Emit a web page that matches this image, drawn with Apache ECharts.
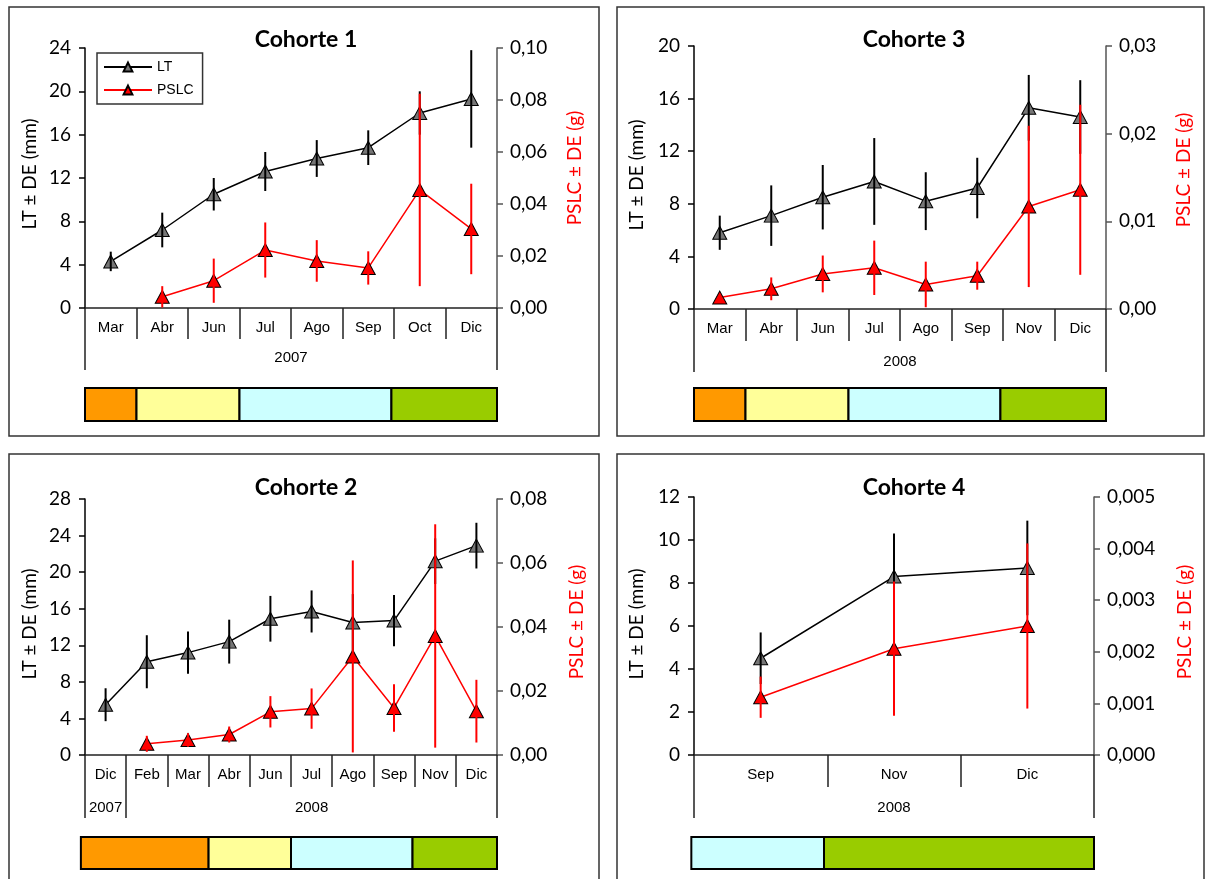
<!DOCTYPE html>
<html>
<head>
<meta charset="utf-8">
<script src="https://cdn.jsdelivr.net/npm/echarts@6/dist/echarts.min.js"></script>
<style>
  html, body { margin: 0; padding: 0; background: #fff; }
  #chart { width: 1205px; height: 879px; }
</style>
</head>
<body>
<div id="chart"></div>
<script>
// ---- Cohorte 1 (2007) ----
const c1Months = ['Mar', 'Abr', 'Jun', 'Jul', 'Ago', 'Sep', 'Oct', 'Dic'];
const c1LT = [4.3, 7.2, 10.5, 12.6, 13.8, 14.8, 18.0, 19.3];
const c1LTsd = [0.9, 1.6, 1.5, 1.8, 1.7, 1.6, 2.0, 4.5];
const c1PSLC = [null, 0.0043, 0.0105, 0.0223, 0.0181, 0.0154, 0.0454, 0.0304];
const c1PSLCsd = [null, 0.0041, 0.0085, 0.0106, 0.0080, 0.0064, 0.0370, 0.0174];
const c1Years = ['2007'];
const c1YearSpans = [8];
const c1SeasonEdges = [0, 1, 3, 5.95, 8];
const c1Seasons = [0, 1, 2, 3];
const c1LTTicks = [0, 24, 4];
const c1PSLCTicks = [0, 0.10, 0.02];

// ---- Cohorte 3 (2008) ----
const c3Months = ['Mar', 'Abr', 'Jun', 'Jul', 'Ago', 'Sep', 'Nov', 'Dic'];
const c3LT = [5.8, 7.1, 8.5, 9.7, 8.2, 9.2, 15.3, 14.6];
const c3LTsd = [1.3, 2.3, 2.45, 3.3, 2.2, 2.3, 2.5, 2.8];
const c3PSLC = [0.0013, 0.0023, 0.0040, 0.0047, 0.0028, 0.0038, 0.0117, 0.0136];
const c3PSLCsd = [0.0002, 0.0013, 0.0021, 0.0031, 0.0026, 0.0016, 0.0092, 0.0097];
const c3Years = ['2008'];
const c3YearSpans = [8];
const c3SeasonEdges = [0, 1, 3, 5.95, 8];
const c3Seasons = [0, 1, 2, 3];
const c3LTTicks = [0, 20, 4];
const c3PSLCTicks = [0, 0.03, 0.01];

// ---- Cohorte 2 (dic 2007 - dic 2008) ----
const c2Months = ['Dic', 'Feb', 'Mar', 'Abr', 'Jun', 'Jul', 'Ago', 'Sep', 'Nov', 'Dic'];
const c2LT = [5.5, 10.2, 11.2, 12.4, 14.9, 15.7, 14.5, 14.7, 21.2, 22.9];
const c2LTsd = [1.8, 2.9, 2.3, 2.4, 2.5, 2.3, 3.1, 2.8, 2.5, 2.5];
const c2PSLC = [null, 0.0035, 0.0047, 0.0064, 0.0135, 0.0145, 0.0308, 0.0147, 0.0372, 0.0137];
const c2PSLCsd = [null, 0.0025, 0.0021, 0.0025, 0.0049, 0.0063, 0.0300, 0.0074, 0.0349, 0.0098];
const c2Years = ['2007', '2008'];
const c2YearSpans = [1, 9];
const c2SeasonEdges = [-0.1, 3, 5, 7.95, 10];
const c2Seasons = [0, 1, 2, 3];
const c2LTTicks = [0, 28, 4];
const c2PSLCTicks = [0, 0.08, 0.02];

// ---- Cohorte 4 (2008) ----
const c4Months = ['Sep', 'Nov', 'Dic'];
const c4LT = [4.5, 8.3, 8.7];
const c4LTsd = [1.2, 2.0, 2.2];
const c4PSLC = [0.00112, 0.00206, 0.0025];
const c4PSLCsd = [0.0004, 0.0013, 0.0016];
const c4Years = ['2008'];
const c4YearSpans = [3];
const c4SeasonEdges = [-0.02, 0.975, 3];
const c4Seasons = [2, 3];
const c4LTTicks = [0, 12, 2];
const c4PSLCTicks = [0, 0.005, 0.001];

// season strip colours
const seasonColors = ['#FF9900', '#FFFF99', '#CCFFFF', '#99CC00'];

const FONT_NUM = 'Lato, "Open Sans", sans-serif';
const FONT_CAT = '"Liberation Sans", Arial, sans-serif';

// panel geometry (pixels)
const layouts = [
  { box: [9, 7, 590, 429], left: 85, top: 48, width: 412, height: 260, barTop: 388, barH: 33,
    title: [306, 40], nameL: [30, 174], nameR: [575, 168], catTick: 31, yearTick: 62, yearMargin: 42, dec: 2 },
  { box: [617, 7, 587, 429], left: 694, top: 46, width: 412, height: 263, barTop: 388, barH: 33,
    title: [914, 40], nameL: [637, 175], nameR: [1184, 170], catTick: 32, yearTick: 63, yearMargin: 45, dec: 2 },
  { box: [9, 454, 590, 500], left: 85, top: 499, width: 412, height: 256, barTop: 837, barH: 32,
    title: [306, 488], nameL: [30, 624], nameR: [577, 622], catTick: 32, yearTick: 63, yearMargin: 45, dec: 2 },
  { box: [617, 454, 587, 500], left: 694, top: 497, width: 400, height: 258, barTop: 837, barH: 32,
    title: [914, 488], nameL: [637, 624], nameR: [1185, 622], catTick: 32, yearTick: 63, yearMargin: 45, dec: 3 }
];

const cohorts = [
  { title: 'Cohorte 1', months: c1Months, lt: c1LT, ltSd: c1LTsd, pslc: c1PSLC, pslcSd: c1PSLCsd,
    years: c1Years, yearSpans: c1YearSpans, edges: c1SeasonEdges, seasons: c1Seasons, ltTicks: c1LTTicks, pslcTicks: c1PSLCTicks },
  { title: 'Cohorte 3', months: c3Months, lt: c3LT, ltSd: c3LTsd, pslc: c3PSLC, pslcSd: c3PSLCsd,
    years: c3Years, yearSpans: c3YearSpans, edges: c3SeasonEdges, seasons: c3Seasons, ltTicks: c3LTTicks, pslcTicks: c3PSLCTicks },
  { title: 'Cohorte 2', months: c2Months, lt: c2LT, ltSd: c2LTsd, pslc: c2PSLC, pslcSd: c2PSLCsd,
    years: c2Years, yearSpans: c2YearSpans, edges: c2SeasonEdges, seasons: c2Seasons, ltTicks: c2LTTicks, pslcTicks: c2PSLCTicks },
  { title: 'Cohorte 4', months: c4Months, lt: c4LT, ltSd: c4LTsd, pslc: c4PSLC, pslcSd: c4PSLCsd,
    years: c4Years, yearSpans: c4YearSpans, edges: c4SeasonEdges, seasons: c4Seasons, ltTicks: c4LTTicks, pslcTicks: c4PSLCTicks }
];

function errorBars(vals, sds, xi, yi, color, z) {
  const data = [];
  vals.forEach((v, i) => { if (v != null) data.push([i, v - sds[i], v + sds[i]]); });
  return {
    type: 'custom', xAxisIndex: xi, yAxisIndex: yi, z: z, silent: true,
    encode: { x: 0, y: [1, 2] },
    data: data,
    renderItem: (params, api) => {
      const a = api.coord([api.value(0), api.value(1)]);
      const b = api.coord([api.value(0), api.value(2)]);
      return { type: 'line', shape: { x1: a[0], y1: a[1], x2: b[0], y2: b[1] },
               style: { stroke: color, lineWidth: 2 } };
    }
  };
}

const grid = [], xAxis = [], yAxis = [], series = [], graphic = [];

cohorts.forEach((c, k) => {
  const L = layouts[k];
  const n = c.months.length;
  const g = grid.length;
  grid.push({ left: L.left, top: L.top, width: L.width, height: L.height });
  grid.push({ left: L.left, top: L.barTop, width: L.width, height: L.barH });

  // months
  const xCat = xAxis.length;
  xAxis.push({
    type: 'category', gridIndex: g, data: c.months, position: 'bottom', boundaryGap: true,
    axisLine: { show: true, onZero: false, lineStyle: { color: '#222', width: 1.5 } },
    axisTick: { show: true, interval: 0, length: L.catTick, lineStyle: { color: '#222', width: 1.5 } },
    axisLabel: { interval: 0, margin: 12, color: '#000', fontFamily: FONT_CAT, fontSize: 15 },
    splitLine: { show: false }
  });
  // year groups below the months
  const yEdges = [0];
  c.yearSpans.forEach(s => yEdges.push(yEdges[yEdges.length - 1] + s));
  const yCenters = c.yearSpans.map((s, i) => yEdges[i] + s / 2);
  xAxis.push({
    type: 'value', gridIndex: g, min: 0, max: n, position: 'bottom', offset: 0,
    axisLine: { show: false }, splitLine: { show: false },
    axisTick: { show: true, customValues: yEdges, length: L.yearTick, lineStyle: { color: '#222', width: 1.5 } },
    axisLabel: { customValues: yCenters, margin: L.yearMargin, color: '#000', fontFamily: FONT_CAT, fontSize: 15,
      formatter: v => { const i = yCenters.findIndex(x => Math.abs(x - v) < 1e-6); return i >= 0 ? c.years[i] : ''; } }
  });
  // season strip axis
  const xBar = xAxis.length;
  xAxis.push({ type: 'value', gridIndex: g + 1, min: 0, max: n, show: false });

  const yL = yAxis.length;
  yAxis.push({
    type: 'value', gridIndex: g, position: 'left',
    min: c.ltTicks[0], max: c.ltTicks[1], interval: c.ltTicks[2],
    axisLine: { show: true, lineStyle: { color: '#000', width: 1.5 } },
    axisTick: { show: true, length: 6, lineStyle: { color: '#000', width: 1.5 } },
    axisLabel: { margin: 14, color: '#000', fontFamily: FONT_NUM, fontSize: 19 },
    splitLine: { show: false }
  });
  const yR = yAxis.length;
  yAxis.push({
    type: 'value', gridIndex: g, position: 'right',
    min: c.pslcTicks[0], max: c.pslcTicks[1], interval: c.pslcTicks[2],
    axisLine: { show: true, lineStyle: { color: '#555', width: 1.5 } },
    axisTick: { show: true, length: 6, lineStyle: { color: '#555', width: 1.5 } },
    axisLabel: { margin: 13, color: '#000', fontFamily: FONT_NUM, fontSize: 19,
      formatter: v => v.toFixed(L.dec).replace('.', ',') },
    splitLine: { show: false }
  });
  const yBar = yAxis.length;
  yAxis.push({ type: 'value', gridIndex: g + 1, min: 0, max: 1, show: false });

  series.push({
    type: 'line', name: 'LT', xAxisIndex: xCat, yAxisIndex: yL, data: c.lt, z: 2,
    symbol: 'triangle', symbolSize: [14, 13],
    lineStyle: { color: '#000', width: 1.5 },
    itemStyle: { color: '#767676', borderColor: '#000', borderWidth: 1 }
  });
  series.push(errorBars(c.lt, c.ltSd, xCat, yL, '#000', 3));
  series.push({
    type: 'line', name: 'PSLC', xAxisIndex: xCat, yAxisIndex: yR, data: c.pslc, z: 4,
    symbol: 'triangle', symbolSize: [14, 13],
    lineStyle: { color: '#FF0000', width: 1.5 },
    itemStyle: { color: '#FF0000', borderColor: '#000', borderWidth: 1 }
  });
  series.push(errorBars(c.pslc, c.pslcSd, xCat, yR, '#FF0000', 5));

  // season strip
  series.push({
    type: 'custom', xAxisIndex: xBar, yAxisIndex: yBar, silent: true, z: 2,
    encode: { x: [0, 1] },
    data: c.seasons.map((s, i) => [c.edges[i], c.edges[i + 1], s]),
    renderItem: (params, api) => {
      const p0 = api.coord([api.value(0), 1]);
      const p1 = api.coord([api.value(1), 0]);
      return { type: 'rect', shape: { x: p0[0], y: p0[1], width: p1[0] - p0[0], height: p1[1] - p0[1] },
               style: { fill: seasonColors[api.value(2)], stroke: '#000', lineWidth: 2 } };
    }
  });

  // frame, title and axis names
  graphic.push({ type: 'rect', silent: true, z: 0,
    shape: { x: L.box[0], y: L.box[1], width: L.box[2], height: L.box[3] },
    style: { fill: null, stroke: '#333', lineWidth: 1.5 } });
  graphic.push({ type: 'text', silent: true, x: L.title[0], y: L.title[1],
    style: { text: c.title, fill: '#000', font: 'bold 23px ' + FONT_NUM, align: 'center', verticalAlign: 'middle' } });
  graphic.push({ type: 'text', silent: true, x: L.nameL[0], y: L.nameL[1], rotation: Math.PI / 2,
    style: { text: 'LT ± DE (mm)', fill: '#000', font: '19px ' + FONT_NUM, align: 'center', verticalAlign: 'middle' } });
  graphic.push({ type: 'text', silent: true, x: L.nameR[0], y: L.nameR[1], rotation: Math.PI / 2,
    style: { text: 'PSLC ± DE (g)', fill: '#FF0000', font: '19px ' + FONT_NUM, align: 'center', verticalAlign: 'middle' } });
});

const chart = echarts.init(document.getElementById('chart'));
chart.setOption({
  animation: false,
  backgroundColor: '#fff',
  grid, xAxis, yAxis, series, graphic,
  legend: {
    data: ['LT', 'PSLC'], orient: 'vertical', left: 97, top: 53,
    itemWidth: 48, itemHeight: 11, itemGap: 9,
    padding: [7, 9, 7, 6],
    backgroundColor: '#fff', borderColor: '#333', borderWidth: 1.5, borderRadius: 0,
    selectedMode: false,
    textStyle: { fontFamily: FONT_CAT, fontSize: 14, color: '#000' }
  }
});
</script>
</body>
</html>
